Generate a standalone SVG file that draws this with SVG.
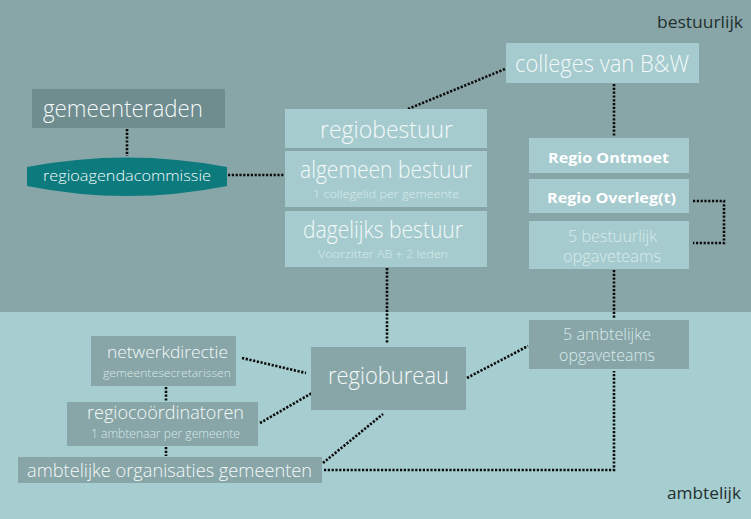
<svg xmlns="http://www.w3.org/2000/svg" width="751" height="519" viewBox="0 0 751 519">
<style>
text{font-family:"Open Sans","Liberation Sans",sans-serif}
.t{font-weight:300;fill:#f4fafa;text-anchor:middle}
.s{font-weight:300;fill:#d8ebec;text-anchor:middle}
.b{font-weight:700;fill:#ffffff;text-anchor:middle;font-size:15px}
.lbl{font-weight:400;fill:#22302f}
.lt{fill:#a5cbce}
.dk{fill:#88a5a7}
.c{fill:none;stroke:#0a0a0a;stroke-width:2.6;stroke-dasharray:2.2 1.6}
</style>
<rect x="0" y="0" width="751" height="312" fill="#88a6a8"/>
<rect x="0" y="312" width="751" height="207" fill="#a6cdd0"/>
<text class="lbl" x="700" y="28" font-size="16" text-anchor="middle" textLength="86" lengthAdjust="spacingAndGlyphs">bestuurlijk</text>
<text class="lbl" x="704" y="499" font-size="17" text-anchor="middle" textLength="74" lengthAdjust="spacingAndGlyphs">ambtelijk</text>
<g id="connectors">
<line class="c" x1="127" y1="129" x2="127" y2="156"/>
<line class="c" x1="228" y1="175" x2="285" y2="175"/>
<line class="c" x1="408" y1="109" x2="505" y2="69"/>
<line class="c" x1="614" y1="84" x2="614" y2="137"/>
<polyline class="c" points="693,201 724,201 724,243 693,243"/>
<line class="c" x1="614" y1="270" x2="614" y2="319"/>
<line class="c" x1="387" y1="268" x2="387" y2="344"/>
<line class="c" x1="467" y1="378" x2="528" y2="346"/>
<line class="c" x1="242" y1="358" x2="306" y2="373"/>
<line class="c" x1="166" y1="387" x2="166" y2="401"/>
<line class="c" x1="260" y1="423" x2="312" y2="393"/>
<line class="c" x1="166" y1="447" x2="166" y2="456"/>
<line class="c" x1="323" y1="463" x2="383" y2="414"/>
<polyline class="c" points="324,470 614,470 614,371"/>
</g>
<g id="gemeenteraden">
<rect x="32" y="89" width="193" height="39" fill="#6f8c8e"/>
<text class="t" x="123" y="117" font-size="23.5" textLength="160" lengthAdjust="spacingAndGlyphs">gemeenteraden</text>
</g>
<g id="regioagendacommissie">
<path d="M27,167 Q127,148 227,167 L227,186 Q127,206 27,186 Z" fill="#0d7a7e"/>
<text class="t" x="127" y="181" font-size="15" textLength="168" lengthAdjust="spacingAndGlyphs">regioagendacommissie</text>
</g>
<g id="regiobestuur">
<rect class="lt" x="285" y="109" width="202" height="39"/>
<text class="t" x="386.5" y="138" font-size="23.5" textLength="133" lengthAdjust="spacingAndGlyphs">regiobestuur</text>
</g>
<g id="algemeen-bestuur">
<rect class="lt" x="285" y="151" width="202" height="56"/>
<text class="t" x="386" y="178" font-size="23.5" textLength="172" lengthAdjust="spacingAndGlyphs">algemeen bestuur</text>
<text class="s" x="386" y="198" font-size="11.5" textLength="146" lengthAdjust="spacingAndGlyphs">1 collegelid per gemeente</text>
</g>
<g id="dagelijks-bestuur">
<rect class="lt" x="285" y="211" width="202" height="56"/>
<text class="t" x="383" y="238" font-size="23.5" textLength="160" lengthAdjust="spacingAndGlyphs">dagelijks bestuur</text>
<text class="s" x="383" y="258" font-size="11.5" textLength="130" lengthAdjust="spacingAndGlyphs">Voorzitter AB + 2 leden</text>
</g>
<g id="colleges">
<rect class="lt" x="506" y="43" width="193" height="40"/>
<text class="t" x="602" y="72" font-size="23.5" textLength="174" lengthAdjust="spacingAndGlyphs">colleges van B&amp;W</text>
</g>
<g id="regio-ontmoet">
<rect class="lt" x="529" y="138" width="160" height="35"/>
<text class="b" x="608.5" y="163" textLength="121" lengthAdjust="spacingAndGlyphs">Regio Ontmoet</text>
</g>
<g id="regio-overleg">
<rect class="lt" x="529" y="179" width="160" height="34"/>
<text class="b" x="611.5" y="203" textLength="129" lengthAdjust="spacingAndGlyphs">Regio Overleg(t)</text>
</g>
<g id="bestuurlijk-opgaveteams">
<rect class="lt" x="529" y="221" width="160" height="48"/>
<text class="s" x="612.5" y="242" font-size="15.5" textLength="89" lengthAdjust="spacingAndGlyphs">5 bestuurlijk</text>
<text class="s" x="612" y="262" font-size="15.5" textLength="98" lengthAdjust="spacingAndGlyphs">opgaveteams</text>
</g>
<g id="ambtelijke-opgaveteams">
<rect class="dk" x="529" y="320" width="160" height="49"/>
<text class="s" x="607" y="340" font-size="15.5" textLength="88" lengthAdjust="spacingAndGlyphs">5 ambtelijke</text>
<text class="s" x="607" y="361" font-size="15.5" textLength="96" lengthAdjust="spacingAndGlyphs">opgaveteams</text>
</g>
<g id="regiobureau">
<rect class="dk" x="311" y="347" width="155" height="63"/>
<text class="t" x="388.5" y="384" font-size="23.5" textLength="121" lengthAdjust="spacingAndGlyphs">regiobureau</text>
</g>
<g id="netwerkdirectie">
<rect class="dk" x="91" y="336" width="145" height="50"/>
<text class="t" x="167.5" y="358" font-size="17" textLength="121" lengthAdjust="spacingAndGlyphs">netwerkdirectie</text>
<text class="s" x="167" y="377" font-size="11" textLength="128" lengthAdjust="spacingAndGlyphs">gemeentesecretarissen</text>
</g>
<g id="regiocoordinatoren">
<rect class="dk" x="67" y="402" width="191" height="44"/>
<text class="t" x="165.5" y="419" font-size="17.5" textLength="157" lengthAdjust="spacingAndGlyphs">regiocoördinatoren</text>
<text class="s" x="165.5" y="438" font-size="12" textLength="149" lengthAdjust="spacingAndGlyphs">1 ambtenaar per gemeente</text>
</g>
<g id="ambtelijke-organisaties">
<rect class="dk" x="18" y="457" width="304" height="26"/>
<text class="t" x="169.5" y="477" font-size="19" textLength="285" lengthAdjust="spacingAndGlyphs">ambtelijke organisaties gemeenten</text>
</g>
</svg>
